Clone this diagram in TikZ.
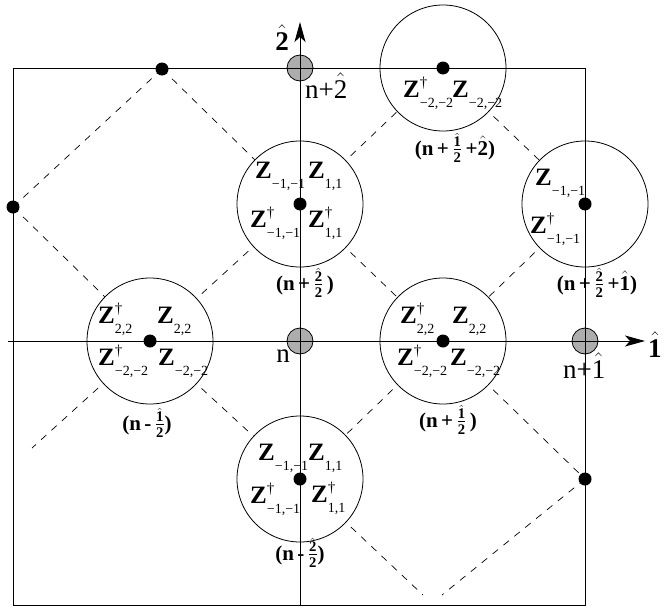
\RequirePackage{fix-cm}
\documentclass[tikz,border=0pt]{standalone}
\usepackage{amsmath}
\usepackage[no-math]{fontspec}
\setmainfont{Liberation Serif}
\usetikzlibrary{arrows.meta}
\newcommand{\Zop}[2]{{\fontsize{25}{25}\selectfont\bfseries Z}\rlap{\raisebox{9.5pt}{\fontsize{15}{15}\selectfont #1}}\raisebox{-10pt}{\fontsize{14}{14}\selectfont #2}}
\newcommand{\hb}[1]{\hat{\textbf{#1}}}
\begin{document}
\begin{tikzpicture}[x=1pt,y=-1pt,
  dsh/.style={dash pattern=on 7pt off 7pt, line width=0.7pt},
  bigc/.style={circle, draw, fill=white, line width=0.8pt, minimum size=126pt, inner sep=0pt},
  gc/.style={circle, draw, fill=black!32, line width=0.8pt, minimum size=26pt, inner sep=0pt},
  dot/.style={circle, fill=black, minimum size=13pt, inner sep=0pt},
  solid line/.style={line width=1pt},
  zl/.style={anchor=base west, inner sep=0pt},
  lab/.style={anchor=base, inner sep=0pt, font=\fontsize{21}{24}\selectfont\bfseries},
  big/.style={inner sep=0pt, font=\fontsize{27}{30}\selectfont},
  tip/.style={-{Stealth[length=20pt,width=11pt,inset=5pt]}}]
\useasboundingbox (0,0) rectangle (669,613);
% lattice points
\coordinate (c1) at (300,204);
\coordinate (c2) at (585,204);
\coordinate (c3) at (443,68);
\coordinate (c4) at (150,341);
\coordinate (c5) at (443,341);
\coordinate (c6) at (300,479);
\coordinate (d1) at (162,69);
\coordinate (d2) at (13,207);
\coordinate (d3) at (585,479);
\coordinate (e1) at (32,448);
\coordinate (e2) at (442,595);
\coordinate (e3) at (423,595);
% dashed diamonds
\draw[dsh] (d1) -- (d2);
\draw[dsh] (d1) -- (c1);
\draw[dsh] (d2) -- (c4);
\draw[dsh] (c1) -- (c3);
\draw[dsh] (c1) -- (c4);
\draw[dsh] (c1) -- (c5);
\draw[dsh] (c3) -- (c2);
\draw[dsh] (c2) -- (c5);
\draw[dsh] (c4) -- (c6);
\draw[dsh] (c4) -- (e1);
\draw[dsh] (c5) -- (c6);
\draw[dsh] (c5) -- (d3);
\draw[dsh] (d3) -- (e2);
\draw[dsh] (c6) -- (e3);
% circles
\node[bigc] (C1) at (c1) {};
\node[bigc] (C2) at (c2) {};
\node[bigc] (C3) at (c3) {};
\node[bigc] (C4) at (c4) {};
\node[bigc] (C5) at (c5) {};
\node[bigc] (C6) at (c6) {};
\node[gc] (g2) at (300,68) {};
\node[gc] (g0) at (300,341) {};
\node[gc] (g1) at (585,341) {};
% box and axes
\coordinate (b1) at (13,68);
\coordinate (b2) at (585,605);
\draw[solid line] (b1) rectangle (b2);
\coordinate (v0) at (300,605);
\coordinate (v1) at (300,22);
\coordinate (h0) at (8,341);
\coordinate (h1) at (645,341);
\draw[solid line, tip] (v0) -- (v1);
\draw[solid line, tip] (h0) -- (h1);
% dots
\foreach \p in {c1,c2,c3,c4,c5,c6,d1,d2,d3} \node[dot] (dot\p) at (\p) {};
% axis labels
\node[big, anchor=base] (l2) at (282,50) {$\hb{2}$};
\node[big, anchor=base west] (l1) at (648,357) {$\hb{1}$};
\node[big, anchor=base west] (ln2) at (305,98) {n+$\hat{\text{2}}$};
\node[big, anchor=base] (ln) at (283,362) {n};
\node[big, anchor=base west] (ln1) at (563,378) {n+$\hat{\text{1}}$};
% Z labels C1
\node[zl] (z11) at (255,178) {\Zop{}{−1,−1}};
\node[zl] (z12) at (308,178) {\Zop{}{1,1}};
\node[zl] (z13) at (250,227) {\Zop{†}{−1,−1}};
\node[zl] (z14) at (308,227) {\Zop{†}{1,1}};
% C6
\node[zl] (z61) at (258,460) {\Zop{}{−1,−1}};
\node[zl] (z62) at (308,460) {\Zop{}{1,1}};
\node[zl] (z63) at (250,503) {\Zop{†}{−1,−1}};
\node[zl] (z64) at (311,502) {\Zop{†}{1,1}};
% C2
\node[zl] (z21) at (535,185) {\Zop{}{−1,−1}};
\node[zl] (z23) at (530,233) {\Zop{†}{−1,−1}};
% C3
\node[zl] (z33) at (403,97) {\Zop{†}{−2,−2}};
\node[zl] (z34) at (452,97) {\Zop{}{−2,−2}};
% C4
\node[zl] (z41) at (98,323) {\Zop{†}{2,2}};
\node[zl] (z42) at (157,323) {\Zop{}{2,2}};
\node[zl] (z43) at (98,365) {\Zop{†}{−2,−2}};
\node[zl] (z44) at (158,365) {\Zop{}{−2,−2}};
% C5
\node[zl] (z51) at (400,323) {\Zop{†}{2,2}};
\node[zl] (z52) at (452,323) {\Zop{}{2,2}};
\node[zl] (z53) at (397,365) {\Zop{†}{−2,−2}};
\node[zl] (z54) at (450,365) {\Zop{}{−2,−2}};
% position labels
\node[lab] (t1) at (305,290) {(n\,+\,$\frac{\hb{2}}{\textbf{2}}$\,)};
\node[lab] (t6) at (300,560) {(n\,-\,$\frac{\hb{2}}{\textbf{2}}$)};
\node[lab] (t2) at (597,290) {(n\,+\,$\frac{\hb{2}}{\textbf{2}}$\,+$\hb{1}$)};
\node[lab] (t3) at (455,155) {(n\,+\,$\frac{\hb{1}}{\textbf{2}}$\,+$\hb{2}$)};
\node[lab] (t4) at (147,430) {(n\,-\,$\frac{\hb{1}}{\textbf{2}}$)};
\node[lab] (t5) at (448,427) {(n\,+\,$\frac{\hb{1}}{\textbf{2}}$\,)};
\end{tikzpicture}
\end{document}
